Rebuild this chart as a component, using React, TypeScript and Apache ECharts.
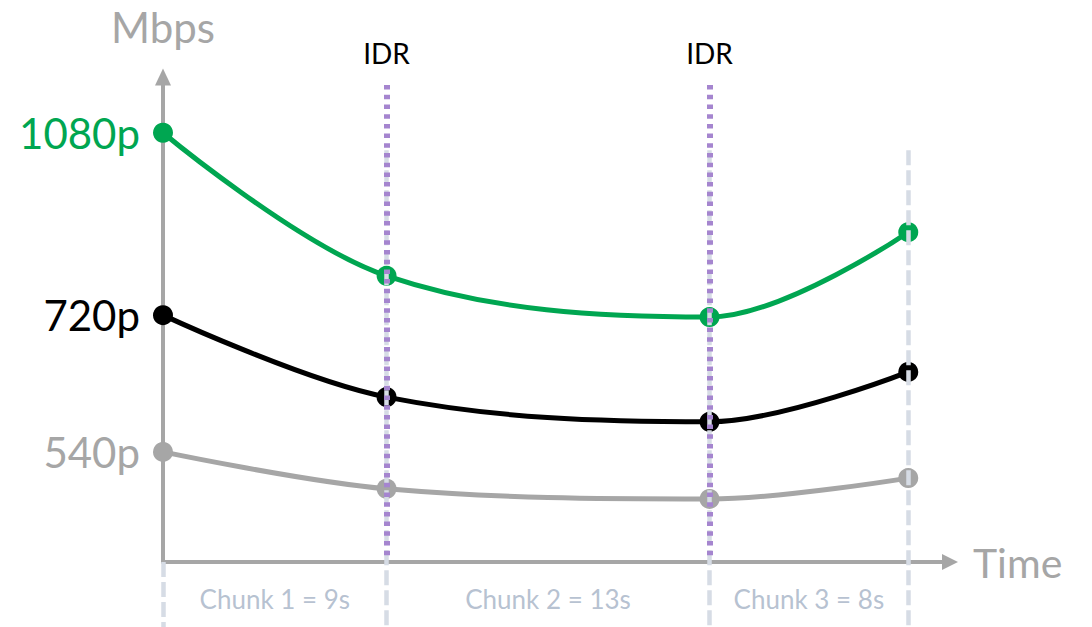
import React, { useEffect, useRef } from 'react';
import * as echarts from 'echarts';

const times = [0, 9, 22, 30];
const rate1080 = [88.5, 59.0, 50.5, 68.0];
const rate720 = [50.9, 34.0, 28.9, 39.2];
const rate540 = [22.7, 15.1, 13.0, 17.3];
const idrTimes = [9, 22];
const chunkBounds = [0, 9, 22, 30];
const chunkLabels = ['Chunk 1 = 9s', 'Chunk 2 = 13s', 'Chunk 3 = 8s'];

const FONT = 'Lato, "Noto Sans", sans-serif';
const GREEN = '#00a651';
const BLACK = '#000000';
const GREY = '#a6a6a6';

function rateSeries(name: string, values: number[], color: string) {
  return {
    type: 'line',
    name,
    xAxisIndex: 0,
    yAxisIndex: 0,
    smooth: 0.35,
    symbol: 'circle',
    symbolSize: 20,
    z: 2,
    silent: true,
    lineStyle: { color, width: 5 },
    itemStyle: { color },
    emphasis: { disabled: true },
    data: values.map((v, i) =>
      i === 0
        ? {
            value: [times[i], v],
            label: {
              show: true,
              position: 'left',
              distance: 13,
              formatter: name,
              color,
              fontSize: 42,
              fontFamily: FONT,
            },
          }
        : [times[i], v]
    ),
  };
}

export default function App() {
  const ref = useRef<HTMLDivElement>(null);
  useEffect(() => {
    document.body.style.margin = '0';
    const chart = echarts.init(ref.current!, undefined, { renderer: 'svg' });
    const xMax = 31.68;
    chart.setOption({
      animation: false,
      backgroundColor: '#ffffff',
      grid: [
        { left: 163, right: 142, top: 77, bottom: 65 },
        { left: 163, right: 142, top: 77, bottom: 0 },
      ],
      xAxis: [
        {
          type: 'value',
          gridIndex: 0,
          min: 0,
          max: xMax,
          z: 1,
          name: 'Time',
          nameLocation: 'end',
          nameGap: 23,
          nameTextStyle: {
            color: GREY,
            fontSize: 41,
            fontFamily: FONT,
            verticalAlign: 'middle',
            align: 'left',
            padding: [0, 0, 10, 0],
          },
          axisLine: {
            show: true,
            onZero: false,
            symbol: ['none', 'triangle'],
            symbolSize: [16, 16],
            lineStyle: { color: GREY, width: 4 },
          },
          axisTick: { show: false },
          axisLabel: { show: false },
          splitLine: { show: false },
        },
        { type: 'value', gridIndex: 1, min: 0, max: xMax, show: false, splitLine: { show: false } },
      ],
      yAxis: [
        {
          type: 'value',
          gridIndex: 0,
          min: 0,
          max: 100,
          z: 1,
          name: 'Mbps',
          nameLocation: 'end',
          nameGap: 50,
          nameTextStyle: { color: GREY, fontSize: 42, fontFamily: FONT, verticalAlign: 'middle', align: 'center' },
          axisLine: {
            show: true,
            onZero: false,
            symbol: ['none', 'triangle'],
            symbolSize: [16, 17],
            lineStyle: { color: GREY, width: 4 },
          },
          axisTick: { show: false },
          axisLabel: { show: false },
          splitLine: { show: false },
        },
        { type: 'value', gridIndex: 1, min: -13.4, max: 100, show: false, splitLine: { show: false } },
      ],
      series: [
        rateSeries('540p', rate540, GREY),
        rateSeries('720p', rate720, BLACK),
        rateSeries('1080p', rate1080, GREEN),
        {
          type: 'line',
          xAxisIndex: 1,
          yAxisIndex: 1,
          data: [],
          z: 3,
          silent: true,
          markLine: {
            silent: true,
            symbol: ['none', 'none'],
            emphasis: { disabled: true },
            lineStyle: { color: '#d6dce5', width: 4.5, type: [15, 5] },
            label: { show: false },
            data: chunkBounds.map((t) => [{ coord: [t, t === 0 ? 0 : 84.9] }, { coord: [t, -13.4] }]),
          },
        },
        {
          type: 'line',
          xAxisIndex: 0,
          yAxisIndex: 0,
          data: [],
          z: 4,
          silent: true,
          markLine: {
            silent: true,
            symbol: ['none', 'none'],
            emphasis: { disabled: true },
            lineStyle: { color: '#a585cf', width: 6, type: [4.5, 5.2] },
            label: {
              show: true,
              position: 'end',
              formatter: 'IDR',
              color: '#000000',
              fontSize: 28,
              fontFamily: FONT,
              distance: 15,
            },
            data: idrTimes.map((t) => [{ coord: [t, 1.4] }, { coord: [t, 99] }]),
          },
        },
        {
          type: 'scatter',
          xAxisIndex: 1,
          yAxisIndex: 1,
          symbolSize: 1,
          silent: true,
          clip: false,
          itemStyle: { color: 'rgba(0,0,0,0)' },
          label: {
            show: true,
            position: 'inside',
            formatter: '{b}',
            color: '#a4b1c5',
            fontSize: 26,
            fontFamily: FONT,
          },
          data: chunkLabels.map((l, i) => ({
            name: l,
            value: [(chunkBounds[i] + chunkBounds[i + 1]) / 2, -7.6],
          })),
        },
      ],
    });
    return () => chart.dispose();
  }, []);
  return <div ref={ref} style={{ width: 1092, height: 627 }} />;
}
